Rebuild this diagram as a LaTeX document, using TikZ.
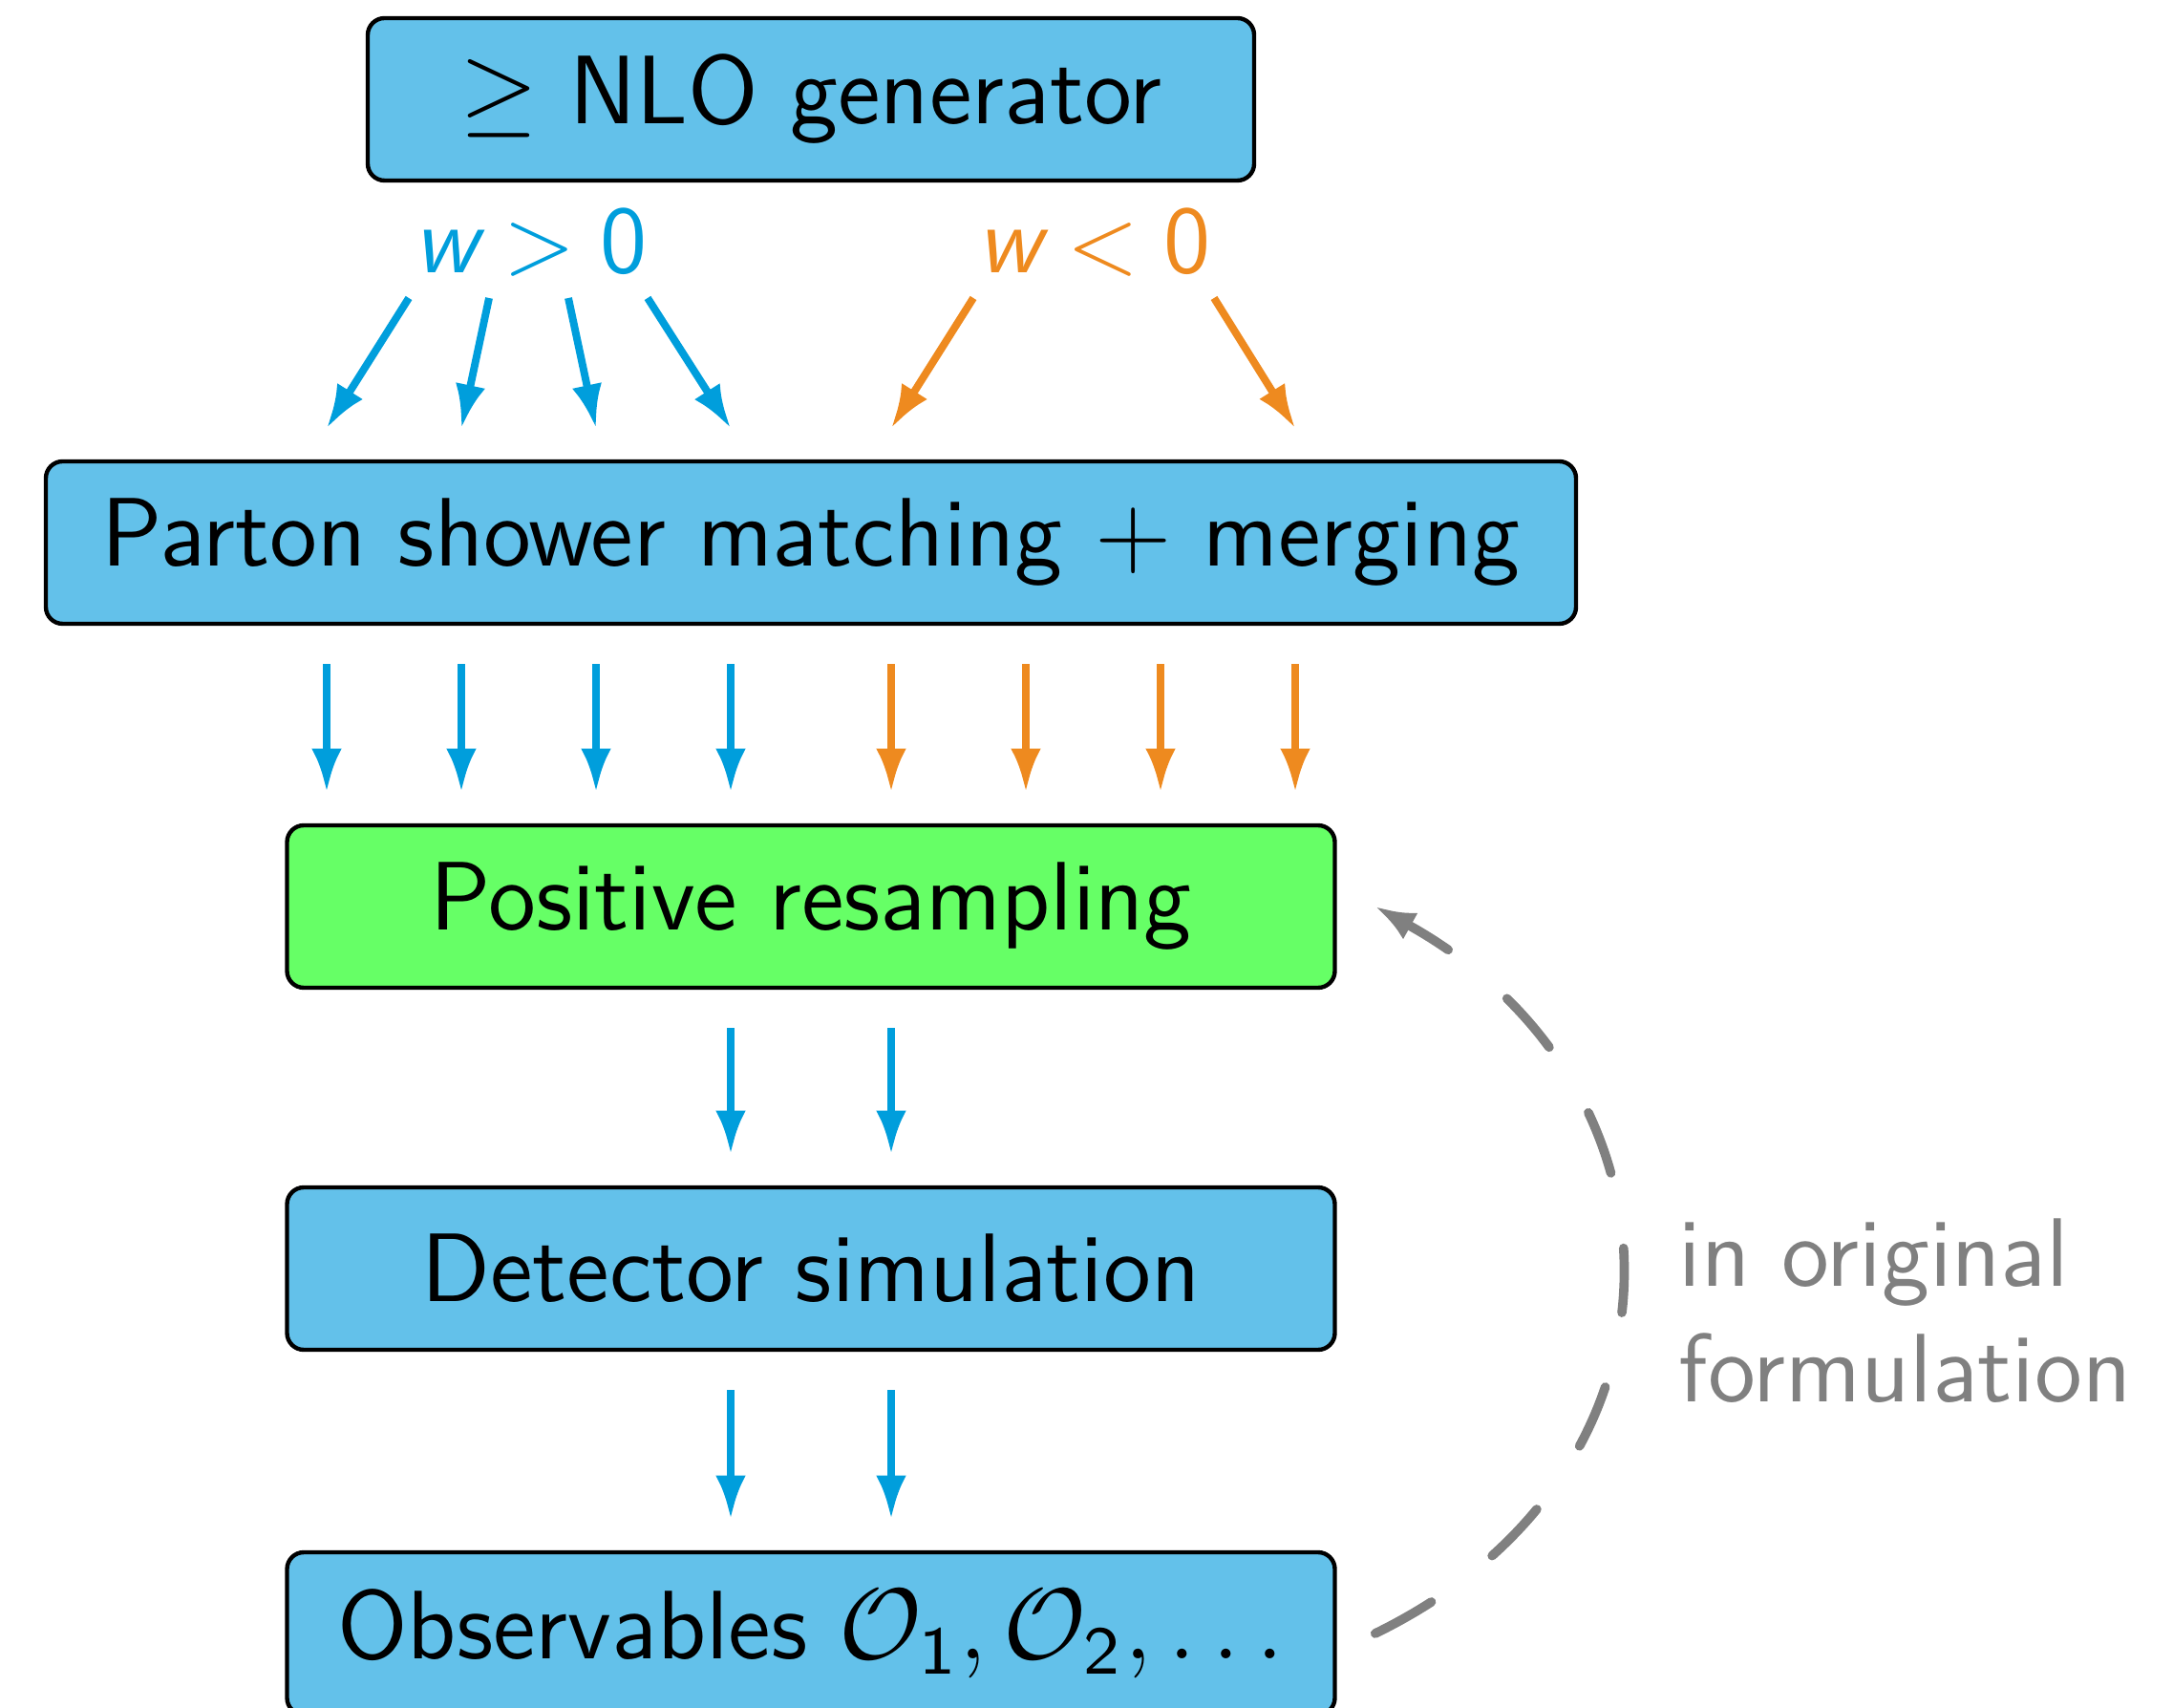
\documentclass[tikz,border=0pt]{standalone}
\usepackage{amsmath,amssymb}
\usepackage{tikz}
\usetikzlibrary{arrows.meta,positioning,calc}
\definecolor{boxblue}{RGB}{99,193,234}
\definecolor{boxgreen}{RGB}{102,255,102}
\definecolor{arrowblue}{RGB}{0,158,220}
\definecolor{arroworange}{RGB}{238,138,31}
\definecolor{loopgray}{RGB}{128,128,128}
\tikzset{
  stage/.style={draw=black, line width=0.5pt, rounded corners=2pt, fill=boxblue,
    minimum height=0.68cm, inner sep=0pt, font=\sffamily\fontsize{11.6}{14}\selectfont},
  weight/.style={anchor=base, inner sep=0pt, font=\sffamily\fontsize{11.4}{14}\selectfont},
  flow/.style={line width=0.9pt, -{Latex[length=5.2pt,width=3.6pt]}},
  loopline/.style={loopgray, line width=1.1pt, line cap=round,
    dash pattern=on 0.27cm off 0.32cm, -{Latex[length=4.8pt,width=3.6pt]}},
}

\begin{document}
\begin{tikzpicture}
  \useasboundingbox (0,0) rectangle (9.1,7.148);
  \node[stage, minimum width=3.712cm] (nlo) at (3.396,6.732) {$\geq$ NLO generator};
  \node[stage, minimum width=6.408cm] (shower) at (3.396,4.876) {Parton shower matching $+$ merging};
  \node[stage, minimum width=4.388cm, fill=boxgreen] (resample) at (3.396,3.352) {Positive resampling};
  \node[stage, minimum width=4.388cm] (detector) at (3.396,1.836) {Detector simulation};
  \node[stage, minimum width=4.388cm] (obs) at (3.396,0.308) {Observables $\mathcal{O}_{\textsf{1}}, \mathcal{O}_{\textsf{2}}, \ldots$};
  \node[weight, arrowblue] (wpos) at (2.224,6.004) {$\textsl{w} > \textsf{0}$};
  \node[weight, arroworange] (wneg) at (4.584,6.004) {$\textsl{w} < \textsf{0}$};
  % events from the generator
  \foreach \a/\b in {-0.512/-2.028, -0.176/-1.464, 0.156/-0.9, 0.488/-0.336}
    \draw[flow, arrowblue] ($(wpos.base)+(\a,-0.104)$) -- ($(shower.north)+(\b,0.13)$);
  \foreach \a/\b in {-0.508/0.336, 0.5/2.028}
    \draw[flow, arroworange] ($(wneg.base)+(\a,-0.104)$) -- ($(shower.north)+(\b,0.13)$);
  % showered events
  \foreach \x in {-2.028,-1.464,-0.9,-0.336}
    \draw[flow, arrowblue] ($(shower.south)+(\x,-0.16)$) -- ($(resample.north)+(\x,0.13)$);
  \foreach \x in {0.336,0.9,1.464,2.028}
    \draw[flow, arroworange] ($(shower.south)+(\x,-0.16)$) -- ($(resample.north)+(\x,0.13)$);
  % resampled events
  \foreach \x in {-0.336,0.336} {
    \draw[flow, arrowblue] ($(resample.south)+(\x,-0.16)$) -- ($(detector.north)+(\x,0.13)$);
    \draw[flow, arrowblue] ($(detector.south)+(\x,-0.16)$) -- ($(obs.north)+(\x,0.13)$);
  }
  % feedback loop
  \coordinate (loopstart) at ($(obs.east)+(0.16,0)$);
  \coordinate (loopend) at ($(resample.east)+(0.16,0)$);
  \draw[loopline] (loopstart) to[out=26, in=-29, looseness=1.3] (loopend);
  \node[loopgray, anchor=north west, inner sep=0pt, align=left,
    font=\sffamily\fontsize{11.6}{13.66}\selectfont] (note) at (7.024,2.05) {in original\\formulation};
\end{tikzpicture}
\end{document}
